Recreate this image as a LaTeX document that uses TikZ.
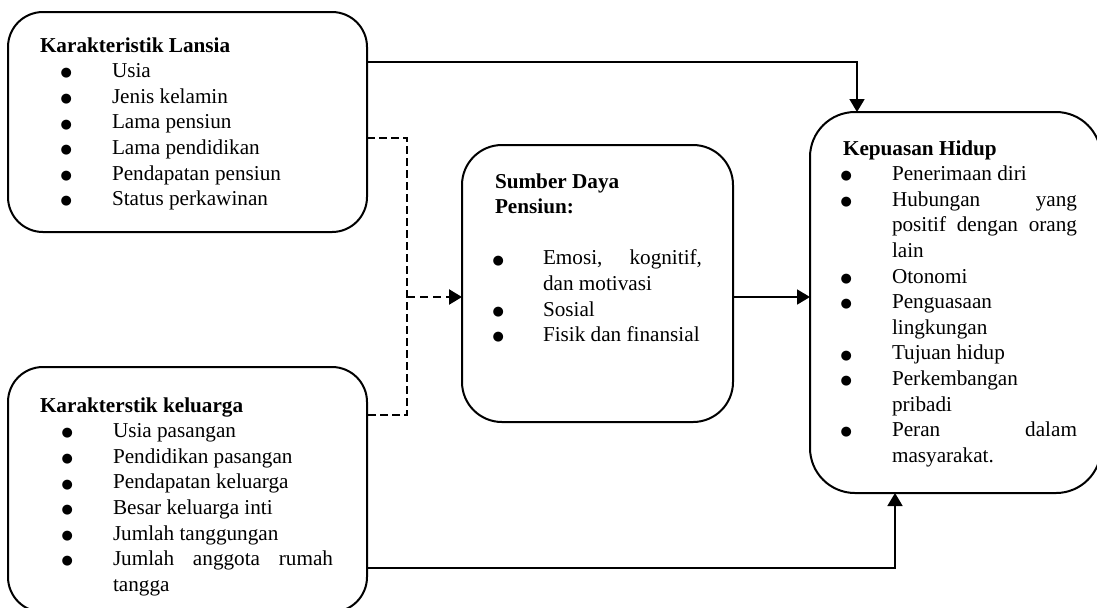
\documentclass[tikz,border=0pt]{standalone}
\usepackage{fontspec}
\setmainfont{Liberation Serif}
\newfontfamily\dejavu{DejaVu Sans}
\usetikzlibrary{arrows.meta}
\newcommand\mybul{\raisebox{0.4pt}{\dejavu\fontsize{6.5}{6.5}\selectfont ●}}
\newenvironment{blist}[2]{\setlength\linewidth{\hsize}\begin{list}{\mybul}{%
  \setlength\leftmargin{#1}\setlength\labelsep{#2}\setlength\labelwidth{10pt}%
  \setlength\itemindent{0pt}\setlength\itemsep{0pt}\setlength\parsep{0pt}%
  \setlength\topsep{0pt}\setlength\partopsep{0pt}\setlength\listparindent{0pt}%
  \setlength\rightmargin{0pt}}}{\end{list}}
\hyphenpenalty=10000
\exhyphenpenalty=10000
\tolerance=10000
\begin{document}
\setlength\parskip{0pt}
\begin{tikzpicture}[x=0.5pt,y=-0.5pt,
  box/.style={draw, line width=1pt, inner sep=0pt, outer sep=0pt},
  txt/.style={anchor=base west, inner sep=0pt, outer sep=0pt, align=justify,
    font=\fontsize{10.6}{12.8}\selectfont},
  arr/.style={line width=0.9pt, -{Triangle[length=6.5pt,width=7.5pt]}},
  dashline/.style={line width=0.7pt, dash pattern=on 4pt off 2pt},
  dasharr/.style={line width=1.2pt, dash pattern=on 4pt off 2.5pt, -{Triangle[length=6.5pt,width=7.5pt]}}]
\useasboundingbox (0,0) rectangle (1097,607);
\clip (0,0) rectangle (1097,607);

% boxes
\node[box, rounded corners=17.5pt, minimum width=179.5pt, minimum height=110pt] (b1) at (187.5,122) {};
\node[box, rounded corners=17.5pt, minimum width=179.5pt, minimum height=122.5pt] (b2) at (187.5,489.5) {};
\node[box, rounded corners=20pt, minimum width=135.5pt, minimum height=138.5pt] (b3) at (597.5,283.5) {};
\node[box, rounded corners=22.5pt, minimum width=145.5pt, minimum height=190.5pt] (b4) at (955.5,302.5) {};

% texts
\node[txt, text width=146.5pt] (t1) at (40,52) {\textbf{Karakteristik Lansia}
\begin{blist}{36pt}{20pt}
\item Usia
\item Jenis kelamin
\item Lama pensiun
\item Lama pendidikan
\item Pendapatan pensiun
\item Status perkawinan
\end{blist}};

\node[txt, text width=146.5pt] (t2) at (40,412) {\textbf{Karakterstik keluarga}
\begin{blist}{36.5pt}{20pt}
\item Usia pasangan
\item Pendidikan pasangan
\item Pendapatan keluarga
\item Besar keluarga inti
\item Jumlah tanggungan
\item Jumlah anggota rumah tangga
\end{blist}};

\node[txt, text width=103.5pt] (t3) at (495,188) {\textbf{Sumber Daya}\\\textbf{Pensiun:}\par\vspace{12.8pt}
\begin{blist}{24pt}{19.5pt}
\item Emosi, kognitif, dan motivasi
\item Sosial
\item Fisik dan finansial
\end{blist}};

\node[txt, text width=117pt] (t4) at (843,155) {\textbf{Kepuasan Hidup}
\begin{blist}{24.5pt}{20pt}
\item Penerimaan diri
\item Hubungan yang positif dengan orang lain
\item Otonomi
\item Penguasaan lingkungan
\item Tujuan hidup
\item Perkembangan pribadi
\item Peran dalam masyarakat.
\end{blist}};

% connectors
\coordinate (m) at ([yshift=-6.75pt]b3.east);
\coordinate (jt) at (407,138);
\coordinate (jb) at (407,415);
\draw[arr] ([yshift=-25pt]b1.north east) -| ([xshift=23.5pt]b4.north west);
\draw[arr] ([yshift=22pt]b2.south east) -| ([xshift=42.5pt]b4.south west);
\draw[arr] (m) -- (m -| b4.west);
\draw[dashline] (jt -| b1.east) -- (jt) -- (jb) -- (jb -| b2.east);
\draw[dasharr] (jt |- m) -- (b3.west |- m);
\end{tikzpicture}
\end{document}
